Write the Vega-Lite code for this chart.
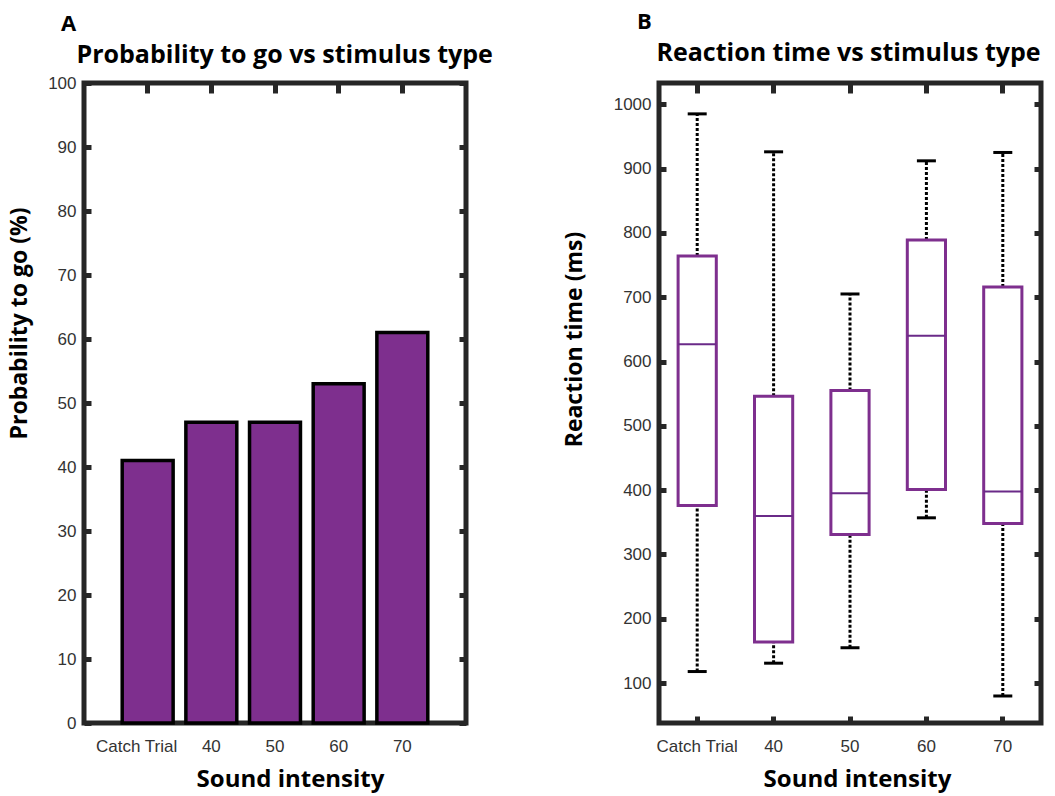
{
  "$schema": "https://vega.github.io/schema/vega-lite/v6.json",
  "background": "white",
  "padding": {"left": 5, "top": 8, "right": 5, "bottom": 5},
  "spacing": 193,
  "bounds": "flush",
  "config": {
    "view": {"stroke": "#262626", "strokeWidth": 5},
    "axis": {
      "domain": false,
      "grid": false,
      "tickColor": "#262626",
      "tickWidth": 5,
      "labelFont": "Liberation Sans",
      "labelFontSize": 17,
      "labelColor": "#333333",
      "titleFont": "Open Sans",
      "titleFontWeight": "bold",
      "titleColor": "black",
      "titleFontSize": 23
    },
    "title": {"font": "Open Sans", "fontWeight": "bold", "fontSize": 22, "color": "black", "anchor": "start", "frame": "group"}
  },
  "hconcat": [
    {
      "width": 382,
      "height": 640,
      "data": {"values": [
        {"intensity": "Catch Trial", "prob": 41},
        {"intensity": "40", "prob": 47},
        {"intensity": "50", "prob": 47},
        {"intensity": "60", "prob": 53},
        {"intensity": "70", "prob": 61}
      ]},
      "title": {"text": "A", "dx": -23, "offset": 6},
      "layer": [
        {
          "mark": {"type": "bar", "opacity": 0},
          "encoding": {
            "x": {"field": "intensity", "type": "nominal", "sort": null,
              "scale": {"paddingInner": 0.2, "paddingOuter": 0.6},
              "axis": {"orient": "top", "labels": false, "tickSize": -10,
                "title": "Probability to go vs stimulus type", "titleFontSize": 25,
                "titleX": -8, "titleY": -21, "titleAlign": "left", "titleBaseline": "alphabetic", "titleAnchor": null}},
            "y": {"field": "prob", "type": "quantitative",
              "scale": {"domain": [0, 100], "nice": false},
              "axis": {"orient": "right", "labels": false, "title": null, "tickSize": -7,
                "values": [0, 10, 20, 30, 40, 50, 60, 70, 80, 90, 100]}}
          }
        },
        {
          "mark": {"type": "bar", "fill": "#7E2F8E", "stroke": "black", "strokeWidth": 3.5},
          "encoding": {
            "x": {"field": "intensity", "type": "nominal", "sort": null,
              "axis": {"orient": "bottom", "labelAngle": 0, "tickSize": -7, "labelPadding": 22,
                "labelOffset": {"condition": {"test": "datum.value === 'Catch Trial'", "value": -11}, "value": 0},
                "title": "Sound intensity", "titleFontSize": 24, "titleX": 206, "titleY": 63, "titleAlign": "center", "titleBaseline": "alphabetic", "titleAnchor": null}},
            "y": {"field": "prob", "type": "quantitative",
              "axis": {"orient": "left", "tickSize": -7, "labelPadding": 15,
                "values": [0, 10, 20, 30, 40, 50, 60, 70, 80, 90, 100],
                "title": "Probability to go (%)", "titleAngle": -90, "titleX": -53, "titleY": 240,
                "titleAlign": "center", "titleBaseline": "bottom", "titleAnchor": null}}
          }
        }
      ],
      "resolve": {"axis": {"x": "independent", "y": "independent"}}
    },
    {
      "width": 382,
      "height": 640,
      "data": {"values": [
        {"intensity": "Catch Trial", "low": 118, "q1": 376, "median": 627, "q3": 764, "high": 985},
        {"intensity": "40", "low": 131, "q1": 164, "median": 360, "q3": 546, "high": 926},
        {"intensity": "50", "low": 155, "q1": 331, "median": 395, "q3": 555, "high": 705},
        {"intensity": "60", "low": 357, "q1": 401, "median": 640, "q3": 789, "high": 912},
        {"intensity": "70", "low": 80, "q1": 348, "median": 398, "q3": 716, "high": 925}
      ]},
      "title": {"text": "B", "dx": -22, "offset": 6},
      "layer": [
        {
          "mark": {"type": "rule", "color": "black", "strokeWidth": 3, "strokeDash": [3, 2]},
          "encoding": {
            "x": {"field": "intensity", "type": "nominal", "sort": null,
              "scale": {"paddingInner": 0.5, "paddingOuter": 0.25},
              "axis": {"orient": "bottom", "labelAngle": 0, "tickSize": -7, "labelPadding": 22,
                "title": "Sound intensity", "titleFontSize": 24, "titleX": 198, "titleY": 63, "titleAlign": "center", "titleBaseline": "alphabetic", "titleAnchor": null}},
            "y": {"field": "q3", "type": "quantitative",
              "scale": {"domain": [38, 1033], "nice": false, "zero": false},
              "axis": {"orient": "left", "tickSize": -7, "labelPadding": 15, "format": "d",
                "values": [100, 200, 300, 400, 500, 600, 700, 800, 900, 1000],
                "title": "Reaction time (ms)", "titleAngle": -90, "titleX": -73, "titleY": 256,
                "titleAlign": "center", "titleBaseline": "bottom", "titleAnchor": null}},
            "y2": {"field": "high"}
          }
        },
        {
          "mark": {"type": "rule", "color": "black", "strokeWidth": 3, "strokeDash": [3, 2]},
          "encoding": {
            "x": {"field": "intensity", "type": "nominal", "sort": null,
              "axis": {"orient": "top", "labels": false, "tickSize": -10,
                "title": "Reaction time vs stimulus type", "titleFontSize": 25,
                "titleX": -3, "titleY": -23, "titleAlign": "left", "titleBaseline": "alphabetic", "titleAnchor": null}},
            "y": {"field": "low", "type": "quantitative",
              "axis": {"orient": "right", "labels": false, "title": null, "tickSize": -7,
                "values": [100, 200, 300, 400, 500, 600, 700, 800, 900, 1000]}},
            "y2": {"field": "q1"}
          }
        },
        {
          "mark": {"type": "tick", "color": "black", "opacity": 1, "thickness": 3, "size": 19},
          "encoding": {
            "x": {"field": "intensity", "type": "nominal", "sort": null, "axis": null},
            "y": {"field": "high", "type": "quantitative", "axis": null}
          }
        },
        {
          "mark": {"type": "tick", "color": "black", "opacity": 1, "thickness": 3, "size": 19},
          "encoding": {
            "x": {"field": "intensity", "type": "nominal", "sort": null, "axis": null},
            "y": {"field": "low", "type": "quantitative", "axis": null}
          }
        },
        {
          "mark": {"type": "bar", "fill": "white", "stroke": "#7E2F8E", "strokeWidth": 3},
          "encoding": {
            "x": {"field": "intensity", "type": "nominal", "sort": null, "axis": null},
            "y": {"field": "q1", "type": "quantitative", "axis": null},
            "y2": {"field": "q3"}
          }
        },
        {
          "mark": {"type": "tick", "color": "#6A2A88", "opacity": 1, "thickness": 2, "size": 38},
          "encoding": {
            "x": {"field": "intensity", "type": "nominal", "sort": null, "axis": null},
            "y": {"field": "median", "type": "quantitative", "axis": null}
          }
        }
      ],
      "resolve": {"axis": {"x": "independent", "y": "independent"}}
    }
  ]
}
